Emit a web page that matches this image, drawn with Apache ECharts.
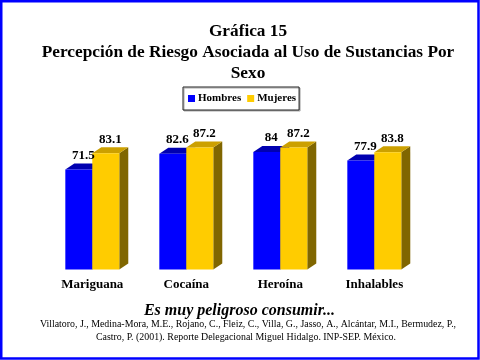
<!DOCTYPE html>
<html>
<head>
<meta charset="utf-8">
<script src="https://cdn.jsdelivr.net/npm/echarts@6/dist/echarts.min.js"></script>
<style>
html,body{margin:0;padding:0;background:#fff;}
#chart{width:480px;height:360px;}
</style>
</head>
<body>
<div id="chart"></div>
<script>
// ---- Data ----
const categories = ['Mariguana', 'Cocaína', 'Heroína', 'Inhalables'];
const seriesNames = ['Hombres', 'Mujeres'];
const hombres = [71.5, 82.6, 84, 77.9];
const mujeres = [83.1, 87.2, 87.2, 83.8];
const titleText = 'Gráfica 15\nPercepción de Riesgo Asociada al Uso de Sustancias Por\nSexo';
const subtitleText = 'Es muy peligroso consumir...';
const citeLine1 = 'Villatoro, J., Medina-Mora, M.E., Rojano, C., Fleiz, C., Villa, G., Jasso, A., Alcántar, M.I., Bermudez, P.,';
const citeLine2 = 'Castro, P. (2001). Reporte Delegacional Miguel Hidalgo. INP-SEP. México.';

const SERIF = '"Liberation Serif", "Times New Roman", serif';

function makeRender(idx, front, top, side) {
  return function (params, api) {
    const cat = api.value(0);
    const val = api.value(1);
    const base = api.coord([cat, 0]);
    const tp = api.coord([cat, val]);
    const band = api.size([1, 0])[0];
    const bw = band * 0.287;
    const dx = 9, dy = -6;
    const x0 = idx === 0 ? base[0] - bw : base[0];
    const x1 = x0 + bw;
    const yT = tp[1], yB = base[1];
    return {
      type: 'group',
      children: [
        { type: 'polygon', shape: { points: [[x1, yT], [x1 + dx, yT + dy], [x1 + dx, yB + dy], [x1, yB]] }, style: { fill: side } },
        { type: 'polygon', shape: { points: [[x0, yT], [x0 + dx, yT + dy], [x1 + dx, yT + dy], [x1, yT]] }, style: { fill: top } },
        { type: 'rect', shape: { x: x0, y: yT, width: bw, height: yB - yT }, style: { fill: front } },
        { type: 'text', z2: 100, style: { text: String(val), x: (x0 + x1) / 2 + 4.5, y: yT + dy - 1.5, align: 'center', verticalAlign: 'bottom', fontFamily: SERIF, fontWeight: 'bold', fontSize: 13, fill: '#000' } }
      ]
    };
  };
}

const chart = echarts.init(document.getElementById('chart'), null, { renderer: 'canvas' });
chart.setOption({
  backgroundColor: '#fff',
  animation: false,
  title: {
    text: titleText,
    left: 248,
    top: 21,
    padding: 0,
    textAlign: 'center',
    textStyle: { fontFamily: SERIF, fontWeight: 'bold', fontSize: 17.3, lineHeight: 21, color: '#000' }
  },
  legend: {
    data: seriesNames,
    left: 183,
    top: 87,
    orient: 'horizontal',
    icon: 'rect',
    itemWidth: 7,
    itemHeight: 7,
    itemGap: 6,
    padding: [6, 3, 6, 5],
    borderColor: '#222',
    borderWidth: 1,
    backgroundColor: '#fff',
    shadowColor: '#aaa',
    shadowOffsetX: 1,
    shadowOffsetY: 1,
    textStyle: { fontFamily: SERIF, fontWeight: 'bold', fontSize: 11, color: '#000', padding: [0, 0, 0, -2] }
  },
  grid: { left: 45.3, right: 58.7, top: 129.5, bottom: 90.5, containLabel: false },
  xAxis: {
    type: 'category',
    data: categories,
    axisLine: { show: false },
    axisTick: { show: false },
    axisLabel: { margin: 9, fontFamily: SERIF, fontWeight: 'bold', fontSize: 13, color: '#000' }
  },
  yAxis: { type: 'value', min: 0, max: 100, show: false },
  series: [
    {
      name: seriesNames[0], type: 'custom',
      itemStyle: { color: '#0000FF' },
      renderItem: makeRender(0, '#0000FF', '#0000B0', '#000080'),
      encode: { x: 0, y: 1 },
      data: hombres.map((v, i) => [i, v])
    },
    {
      name: seriesNames[1], type: 'custom',
      itemStyle: { color: '#FFCC00' },
      renderItem: makeRender(1, '#FFCC00', '#CCA000', '#806600'),
      encode: { x: 0, y: 1 },
      data: mujeres.map((v, i) => [i, v])
    }
  ],
  graphic: [
    { type: 'rect', silent: true, z: 100, shape: { x: 1.25, y: 1.25, width: 477.25, height: 357.25 }, style: { fill: 'none', stroke: '#0000FF', lineWidth: 2.5 } },
    { type: 'text', x: 239.5, y: 311, style: { text: subtitleText, align: 'center', verticalAlign: 'middle', fontFamily: SERIF, fontWeight: 'bold', fontStyle: 'italic', fontSize: 16, fill: '#000' } },
    { type: 'text', x: 248, y: 324.5, style: { text: citeLine1, align: 'center', verticalAlign: 'middle', fontFamily: SERIF, fontSize: 9.9, fill: '#000' } },
    { type: 'text', x: 246, y: 337, style: { text: citeLine2, align: 'center', verticalAlign: 'middle', fontFamily: SERIF, fontSize: 9.9, fill: '#000' } }
  ]
});
</script>
</body>
</html>
